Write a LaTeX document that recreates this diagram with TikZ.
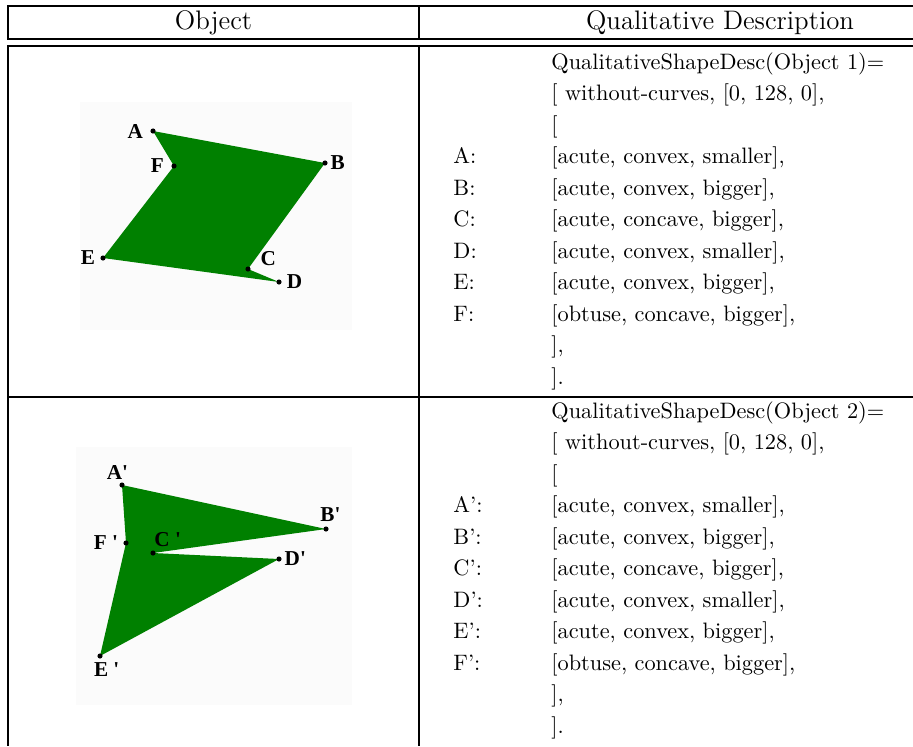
\documentclass[tikz,border=0pt]{standalone}
\usepackage{fontspec}
\newfontfamily\vertexfont{Liberation Serif}
\definecolor{objgreen}{HTML}{008000}
\usetikzlibrary{positioning}

\begin{document}
\begin{tikzpicture}[
    x=0.448pt, y=-0.448pt,
    rule/.style={line width=0.6pt},
    hdr/.style={font=\large, anchor=base, inner sep=0pt},
    txt/.style={anchor=base west, inner sep=0pt},
    vdot/.style={circle, fill=black, inner sep=0pt, minimum size=2.3pt},
    vlab/.style={font=\vertexfont\fontsize{9.5}{10}\selectfont\bfseries,
                 inner sep=0.5pt},
    imgbg/.style={fill=black!1.5}
  ]
  \useasboundingbox (0,0) rectangle (913,746);

  % table rules
  \draw[rule] (913,6) -- (8,6) -- (8,39) -- (913,39);
  \draw[rule] (419,6) -- (419,39);
  \draw[rule] (913,46) -- (8,46) -- (8,746);
  \draw[rule] (419,46) -- (419,746);
  \draw[rule] (8,397) -- (913,397);

  \node[hdr] (objhead) at (213.5,29) {Object};
  \node[hdr] (deschead) at (720,29) {Qualitative Description};

  % object 1
  \fill[imgbg] (80,102) rectangle (352,330);
  \coordinate (A) at (153,131);
  \coordinate (B) at (325,163);
  \coordinate (C) at (248,269);
  \coordinate (D) at (279,282);
  \coordinate (E) at (103,258);
  \coordinate (F) at (174,166);
  \fill[objgreen] (A) -- (B) -- (C) -- (D) -- (E) -- (F) -- cycle;
  \foreach \p in {A,B,C,D,E,F}
    \node[vdot] (dot\p) at (\p) {};
  \node[vlab, left=2.5pt of dotA] (labelA) {A};
  \node[vlab, right=0.5pt of dotB] (labelB) {B};
  \node[vlab, above right=0pt and 4pt of dotC] (labelC) {C};
  \node[vlab, right=1.5pt of dotD] (labelD) {D};
  \node[vlab, left=1.5pt of dotE] (labelE) {E};
  \node[vlab, left=2.5pt of dotF] (labelF) {F};

  % object 2
  \fill[imgbg] (76,447) rectangle (352,705);
  \coordinate (A2) at (122,485);
  \coordinate (B2) at (326,529);
  \coordinate (C2) at (153,553);
  \coordinate (D2) at (279,559);
  \coordinate (E2) at (100,656);
  \coordinate (F2) at (126,543);
  \fill[objgreen] (A2) -- (B2) -- (C2) -- (D2) -- (E2) -- (F2) -- cycle;
  \foreach \p in {A2,B2,C2,D2,E2,F2}
    \node[vdot] (dot\p) at (\p) {};
  \node[vlab, above=0.5pt of dotA2, xshift=-2pt] (labelA2) {A'};
  \node[vlab, above=1.5pt of dotB2, xshift=2pt] (labelB2) {B'};
  \node[vlab, above right=1pt and -1pt of dotC2] (labelC2) {C '};
  \node[vlab, right=0.5pt of dotD2] (labelD2) {D'};
  \node[vlab, below=1pt of dotE2, xshift=3pt] (labelE2) {E '};
  \node[vlab, left=1.5pt of dotF2] (labelF2) {F '};

  % descriptions
  \foreach \desc [count=\i from 0] in {{QualitativeShapeDesc(Object 1)=},
      {[ without-curves, [0, 128, 0],}, {[},
      {[acute, convex, smaller],}, {[acute, convex, bigger],},
      {[acute, concave, bigger],}, {[acute, convex, smaller],},
      {[acute, convex, bigger],}, {[obtuse, concave, bigger],},
      {],}, {].}}
    \node[txt] (descA\i) at (551,69+31.5*\i) {\desc};
  \foreach \v [count=\i from 3] in {A,B,C,D,E,F}
    \node[txt] (vertA\i) at (453,69+31.5*\i) {\v:};

  \foreach \desc [count=\i from 0] in {{QualitativeShapeDesc(Object 2)=},
      {[ without-curves, [0, 128, 0],}, {[},
      {[acute, convex, smaller],}, {[acute, convex, bigger],},
      {[acute, concave, bigger],}, {[acute, convex, smaller],},
      {[acute, convex, bigger],}, {[obtuse, concave, bigger],},
      {],}, {].}}
    \node[txt] (descB\i) at (551,418+31.5*\i) {\desc};
  \foreach \v [count=\i from 3] in {A',B',C',D',E',F'}
    \node[txt] (vertB\i) at (453,418+31.5*\i) {\v:};
\end{tikzpicture}
\end{document}
